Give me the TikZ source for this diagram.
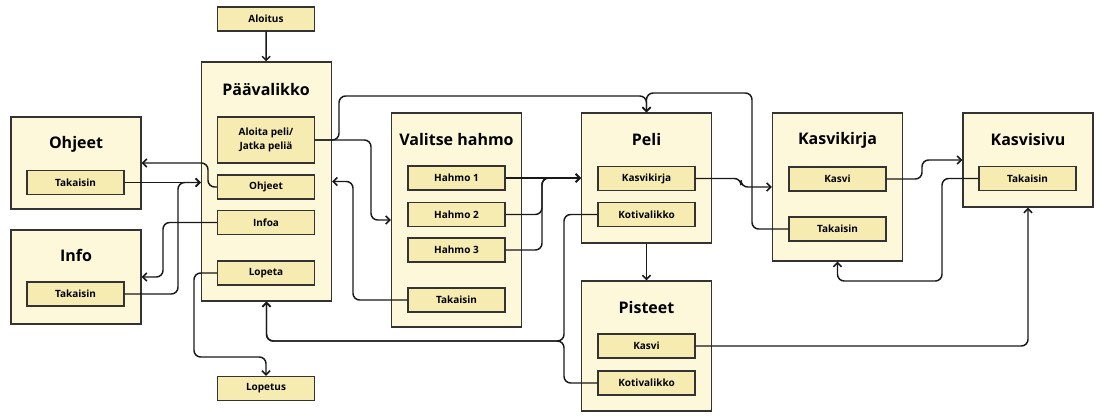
\documentclass[tikz,border=0pt]{standalone}
\usepackage{fontspec}
\setmainfont{Open Sans}
\usepackage{xcolor}
\usetikzlibrary{arrows.meta,positioning}
\definecolor{screenfill}{HTML}{FEF8DB}
\definecolor{buttonfill}{HTML}{F6EBB0}
\definecolor{edgegray}{HTML}{333333}

\begin{document}
\begin{tikzpicture}[
			x=0.75pt, y=-0.75pt,
			screen/.style={rectangle, draw=edgegray, line width=1.1pt, fill=screenfill, minimum width=97.5pt},
			button/.style={rectangle, draw=edgegray, line width=1.1pt, fill=buttonfill, minimum width=72.75pt, minimum height=18pt, inner sep=1pt, align=center, font=\bfseries\fontsize{7.5}{10.5}\selectfont},
			title/.style={font=\bfseries\fontsize{12}{14}\selectfont},
			arrow/.style={rounded corners=5pt, draw, black!90, line width=1.1pt, -{Straight Barb[length=3pt,width=6pt]}}
			]
			\useasboundingbox (0,0) rectangle (1100,417);
			
			% screens
			\node (paa) [screen, minimum height=179.25pt] at (266.5,181.5) {};
			\node (ohjeet) [screen, minimum height=69pt] at (76,163) {};
			\node (info) [screen, minimum height=70.5pt] at (76,277) {};
			\node (valitse) [screen, minimum height=160.5pt] at (456.5,220) {};
			\node (peli) [screen, minimum height=97.5pt] at (646.5,178) {};
			\node (pisteet) [screen, minimum height=97.5pt] at (646.5,346) {};
			\node (kirja) [screen, minimum height=111pt] at (837.5,187) {};
			\node (sivu) [screen, minimum height=70.5pt] at (1028,160) {};
			
			% titles
			\node (paatitle) [title] at (266,90) {Päävalikko};
			\node (ohjeettitle) [title] at (76,144) {Ohjeet};
			\node (infotitle) [title] at (76,255) {Info};
			\node (valitsetitle) [title] at (456.5,140) {Valitse hahmo};
			\node (pelititle) [title] at (646.5,140) {Peli};
			\node (pisteettitle) [title] at (646.5,307) {Pisteet};
			\node (kirjatitle) [title] at (837.5,140) {Kasvikirja};
			\node (sivutitle) [title] at (1028,140) {Kasvisivu};
			
			% buttons
			\node (aloitus) [button] at (266,19) {Aloitus};
			\node (aloita) [button, minimum height=34.5pt] at (266,140) {Aloita peli/\\Jatka peliä};
			\node (ohjeetbtn) [button] at (266,187) {Ohjeet};
			\node (infoa) [button] at (266,222.5) {Infoa};
			\node (lopeta) [button] at (266,273) {Lopeta};
			\node (lopetus) [button] at (266,388.5) {Lopetus};
			\node (ohjeettak) [button] at (75.5,182.5) {Takaisin};
			\node (infotak) [button] at (75.5,294) {Takaisin};
			\node (hahmo1) [button] at (456.5,178) {Hahmo 1};
			\node (hahmo2) [button] at (456.5,214.5) {Hahmo 2};
			\node (hahmo3) [button] at (456.5,250) {Hahmo 3};
			\node (valtak) [button] at (456.5,300) {Takaisin};
			\node (pelikirja) [button] at (646.5,178.5) {Kasvikirja};
			\node (pelikoti) [button] at (646.5,214.5) {Kotivalikko};
			\node (pistkasvi) [button] at (646.5,346) {Kasvi};
			\node (pistkoti) [button] at (646.5,383) {Kotivalikko};
			\node (kirjakasvi) [button] at (837.5,179) {Kasvi};
			\node (kirjatak) [button] at (837.5,229) {Takaisin};
			\node (sivutak) [button] at (1027.5,178.5) {Takaisin};
			
			% connectors
			\draw [arrow] (aloitus) -- (paa);
			\draw [arrow] (aloita.east) -| (339,96) -| (peli.north);
			\draw [arrow] (aloita.east) -| (371,220) -- (valitse.west);
			\draw [arrow] (kirjatak.west) -| (752,93) -| (peli.north);
			\draw [arrow] (ohjeetbtn.west) -| (208,163) -- (ohjeet.east);
			\draw [arrow] (ohjeettak.east) -- (ohjeettak.east -| paa.west);
			\draw [arrow] (infotak.east) -| (178,182.5) -- (ohjeettak.east -| paa.west);
			\draw [arrow] (infoa.west) -| (163,277) -- (info.east);
			\draw [arrow] (lopeta.west) -| (194,357) -| (lopetus.north);
			\draw [arrow] (valtak.west) -| (353,181.5) -- (paa.east);
			\draw [arrow] (hahmo1.east) -- (peli.west);
			\draw [arrow] (hahmo2.east) -| (542,178) -- (peli.west);
			\draw [arrow] (hahmo3.east) -| (542,178) -- (peli.west);
			\draw [arrow] (pelikoti.west) -| (564,341) -| (paa.south);
			\draw [arrow] (pistkoti.west) -| (564,341) -| (paa.south);
			\draw [arrow] (peli) -- (pisteet);
			\draw [arrow] (pelikirja.east) -| (741,187) -- (kirja.west);
			\draw [arrow] (kirjakasvi.east) -| (922,160) -- (sivu.west);
			\draw [arrow] (sivutak.west) -| (942,281) -| (kirja.south);
			\draw [arrow] (pistkasvi.east) -| (sivu.south);
			
		\end{tikzpicture}
\end{document}
